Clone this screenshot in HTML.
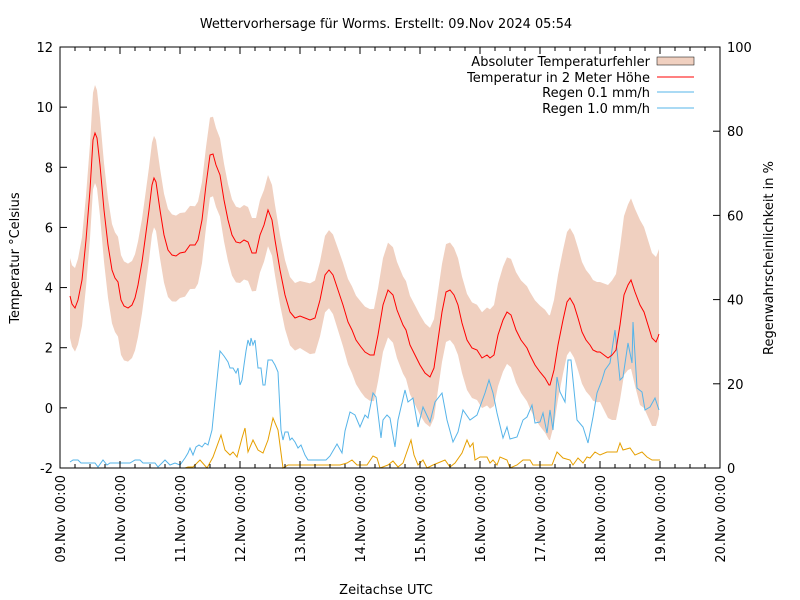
<!DOCTYPE html>
<html><head><meta charset="utf-8"><style>
body{margin:0;background:#fff}
svg{display:block;font-family:"DejaVu Sans","Liberation Sans",sans-serif}
</style></head><body>
<svg id="s" width="800" height="600" xmlns="http://www.w3.org/2000/svg">
<rect width="800" height="600" fill="#fff"/>
<path id="band" fill="#f0d0c0" stroke="none"/>
<polyline id="r1" fill="none" stroke="#56b4e9" stroke-width="1"/>
<polyline id="r2" fill="none" stroke="#e69f00" stroke-width="1"/>
<polyline id="t" fill="none" stroke="#ff0000" stroke-width="1"/>
<g id="ax" stroke="#000" stroke-width="1" fill="none"></g>
<g id="lab" font-size="13" fill="#000"></g>
<text x="386" y="28" font-size="12.9" text-anchor="middle">Wettervorhersage für Worms. Erstellt: 09.Nov 2024 05:54</text>
<text x="386" y="594" font-size="13" text-anchor="middle">Zeitachse UTC</text>
<text transform="translate(19,258) rotate(-90)" font-size="13" text-anchor="middle">Temperatur °Celsius</text>
<text transform="translate(773,258) rotate(-90)" font-size="13" text-anchor="middle">Regenwahrscheinlichkeit in %</text>
<g font-size="13" text-anchor="end">
<text x="650" y="66">Absoluter Temperaturfehler</text>
<text x="650" y="82">Temperatur in 2 Meter Höhe</text>
<text x="650" y="97">Regen 0.1 mm/h</text>
<text x="650" y="113">Regen 1.0 mm/h</text>
</g>
<rect x="657" y="57" width="37" height="8" fill="#f0d0c0" stroke="#000" stroke-width="0.5"/>
<line x1="657" y1="77" x2="694" y2="77" stroke="#f00"/>
<line x1="657" y1="92" x2="694" y2="92" stroke="#56b4e9"/>
<line x1="657" y1="108" x2="694" y2="108" stroke="#56b4e9"/>
</svg>
<script>
const T=[[70,296],[72,304],[75,308],[78,300],[82,280],[86,240],[90,190],[93,140],[95,133],[97,138],[100,165],[104,210],[108,245],[112,270],[115,278],[118,282],[121,300],[124,306],[128,308],[132,305],[135,298],[138,285],[142,262],[145,240],[149,210],[152,185],[154,178],[156,182],[160,210],[164,235],[168,250],[172,255],[176,256],[180,253],[185,252],[190,245],[195,245],[198,240],[202,220],[206,185],[210,155],[213,154],[216,165],[220,175],[224,200],[228,220],[232,235],[236,242],[240,243],[244,240],[248,242],[252,253],[256,253],[260,235],[264,225],[268,210],[272,220],[275,240],[280,270],[285,295],[290,312],[295,318],[300,316],[305,318],[310,320],[315,318],[320,300],[325,275],[329,270],[333,275],[338,290],[343,305],[348,322],[352,330],[356,340],[361,347],[365,352],[370,355],[374,355],[378,335],[383,305],[388,290],[393,295],[397,310],[403,325],[406,330],[410,345],[415,355],[420,365],[425,373],[430,377],[434,368],[438,340],[442,312],[446,292],[450,290],[454,295],[458,305],[462,323],[467,340],[472,348],[477,350],[482,358],[487,355],[490,358],[494,355],[498,335],[503,320],[507,312],[511,315],[516,330],[521,340],[527,348],[530,355],[535,365],[540,372],[545,378],[549,385],[550,385],[554,370],[558,345],[563,320],[567,302],[570,298],[574,305],[578,318],[582,332],[586,340],[590,345],[593,350],[597,352],[600,352],[604,355],[608,358],[612,355],[616,350],[620,325],[624,295],[628,285],[631,280],[635,292],[640,305],[644,312],[648,325],[652,338],[656,342],[658,337],[659,334]];
const R1=[[70,462],[73,460],[78,460],[81,463],[95,463],[98,467],[103,460],[107,465],[110,463],[130,463],[135,460],[140,460],[143,463],[155,463],[158,467],[165,460],[170,465],[175,463],[180,465],[185,458],[188,453],[190,448],[193,455],[196,447],[199,445],[202,447],[205,443],[208,445],[212,430],[215,400],[218,370],[220,351],[224,356],[228,362],[230,368],[233,368],[236,373],[238,368],[240,385],[242,380],[244,365],[246,351],[248,340],[250,346],[251,338],[253,345],[255,340],[258,368],[261,368],[263,385],[265,385],[268,360],[272,360],[275,365],[278,372],[281,430],[283,440],[285,432],[288,432],[290,440],[292,438],[295,442],[298,448],[301,445],[305,455],[308,460],[326,460],[330,456],[337,444],[342,453],[345,431],[350,412],[355,415],[360,427],[365,415],[368,418],[373,393],[376,397],[381,438],[383,420],[387,415],[390,418],[395,447],[398,420],[405,390],[408,402],[413,398],[418,427],[423,407],[430,422],[435,402],[442,393],[447,420],[453,442],[458,432],[463,410],[470,420],[477,415],[485,393],[489,380],[493,393],[497,413],[503,438],[507,427],[510,439],[517,437],[523,420],[527,417],[532,405],[535,423],[540,422],[543,413],[547,433],[550,410],[553,430],[557,377],[560,392],[565,402],[568,360],[571,360],[577,420],[583,427],[588,443],[593,417],[597,393],[602,380],[605,370],[610,363],[615,330],[620,380],[623,377],[628,343],[632,363],[633,322],[637,388],[642,392],[645,410],[650,407],[655,398],[659,410]];
const R2=[[70,468],[185,468],[188,467],[193,467],[200,460],[207,468],[213,457],[221,435],[225,450],[230,455],[233,452],[237,457],[242,438],[245,428],[248,452],[253,440],[258,450],[263,453],[268,440],[273,418],[278,430],[283,468],[288,465],[300,465],[340,465],[347,463],[352,460],[357,465],[367,465],[373,456],[377,458],[380,468],[388,465],[393,461],[398,467],[403,463],[411,440],[414,455],[418,465],[423,460],[427,468],[433,465],[445,460],[450,467],[455,463],[462,453],[467,440],[470,447],[473,443],[475,460],[480,457],[487,457],[490,463],[493,460],[497,465],[500,457],[507,460],[510,468],[517,465],[523,460],[530,460],[533,465],[552,465],[557,452],[563,458],[570,460],[573,465],[578,458],[583,463],[587,457],[590,458],[595,452],[600,455],[607,452],[617,452],[620,443],[623,450],[630,448],[635,455],[642,452],[647,457],[652,460],[660,460]];
const p=a=>a.map(q=>q.join(',')).join(' ');
document.getElementById('t').setAttribute('points',p(T));
document.getElementById('r1').setAttribute('points',p(R1));
document.getElementById('r2').setAttribute('points',p(R2));
const H=[[70,38,42],[95,48,50],[120,45,55],[180,40,45],[240,35,40],[300,35,32],[360,45,45],[420,50,50],[480,45,50],[550,70,55],[600,70,50],[640,85,100],[660,85,80]];
function hw(x){for(let i=0;i<H.length-1;i++){if(x<=H[i+1][0]){const f=(x-H[i][0])/(H[i+1][0]-H[i][0]);return [H[i][1]+f*(H[i+1][1]-H[i][1]),H[i][2]+f*(H[i+1][2]-H[i][2])];}}return [H[H.length-1][1],H[H.length-1][2]];}
let up=T.map(q=>[q[0],q[1]-hw(q[0])[0]]),dn=T.map(q=>[q[0],q[1]+hw(q[0])[1]]).reverse();
document.getElementById('band').setAttribute('d','M'+p(up)+' L'+p(dn)+'Z');
let ax='<rect x="60" y="47" width="660" height="421"/>';
let lab='';
const L=[12,10,8,6,4,2,0,-2];
L.forEach(v=>{const y=47+(12-v)*421/14;ax+=`<line x1="60" y1="${y}" x2="67" y2="${y}"/>`;lab+=`<text x="53" y="${y+5}" text-anchor="end">${v}</text>`;});
[0,20,40,60,80,100].forEach(v=>{const y=468-v*4.21;ax+=`<line x1="713" y1="${y}" x2="720" y2="${y}"/>`;lab+=`<text x="727" y="${y+5}">${v}</text>`;});
for(let i=0;i<=44;i++){const x=60+i*15;const big=i%4==0;ax+=`<line x1="${x}" y1="468" x2="${x}" y2="${468-(big?7:4)}"/><line x1="${x}" y1="47" x2="${x}" y2="${47+(big?7:4)}"/>`;}
for(let d=0;d<=11;d++){const x=60+d*60;lab+=`<text transform="translate(${x+5},475) rotate(-90)" text-anchor="end">${String(9+d).padStart(2,'0')}.Nov 00:00</text>`;}
document.getElementById('ax').innerHTML=ax;
document.getElementById('lab').innerHTML=lab;
</script>
</body></html>
